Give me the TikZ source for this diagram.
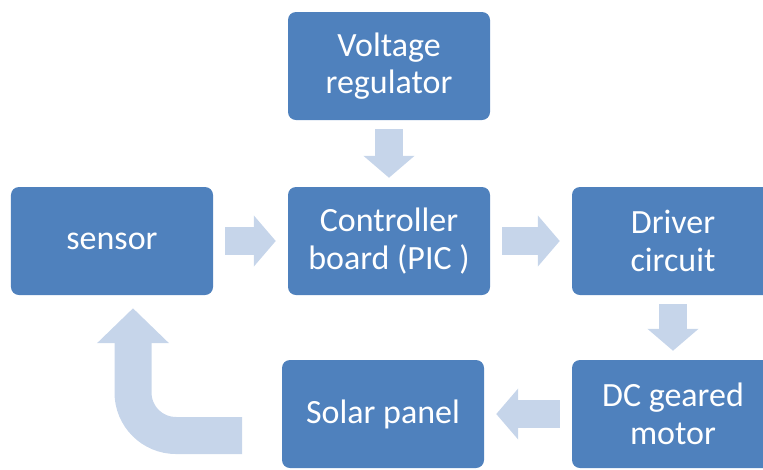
\documentclass[tikz,border=0pt]{standalone}
\usepackage{fontspec}
\setmainfont{Carlito}
\usetikzlibrary{arrows.meta}
\definecolor{boxblue}{HTML}{4F81BD}
\definecolor{arrowblue}{HTML}{C6D5EA}
\begin{document}
\begin{tikzpicture}[x=0.03cm,y=-0.03cm,
  block/.style={fill=boxblue,rounded corners=0.24cm,minimum width=6.06cm,minimum height=3.24cm,inner sep=0pt,text=white,align=center,font=\fontsize{29}{32}\selectfont},
  flow/.style={draw=arrowblue,line width=0.84cm,-{Triangle[width=1.5cm,length=0.66cm]},shorten <=0.36cm,shorten >=0.36cm},
  bigflow/.style={draw=arrowblue,line width=1.11cm,rounded corners=1.29cm,-{Triangle[width=2.1cm,length=1.05cm]},shorten >=0.39cm}]
\path[use as bounding box,clip] (0,0) rectangle (763,469);
\node[block] (volt) at (389,66) {Voltage\\regulator};
\node[block] (ctrl) at (389,241) {Controller\\board (PIC )};
\node[block] (sensor) at (112,241) {sensor};
\node[block] (driver) at (673,241) {Driver\\circuit};
\node[block] (motor) at (673,414) {DC geared\\motor};
\node[block] (solar) at (383,414) {Solar panel};
\coordinate (loopin) at (242,435.5);
\draw[flow,shorten <=0.27cm,shorten >=0.27cm] (volt) -- (ctrl);
\draw[flow] (sensor) -- (ctrl);
\draw[flow] (ctrl) -- (driver);
\draw[flow,shorten <=0.27cm,shorten >=0.27cm] (driver) -- (motor);
\draw[flow] (motor) -- (solar);
\draw[bigflow] (loopin) -| ([xshift=0.63cm]sensor.south);
\end{tikzpicture}
\end{document}
